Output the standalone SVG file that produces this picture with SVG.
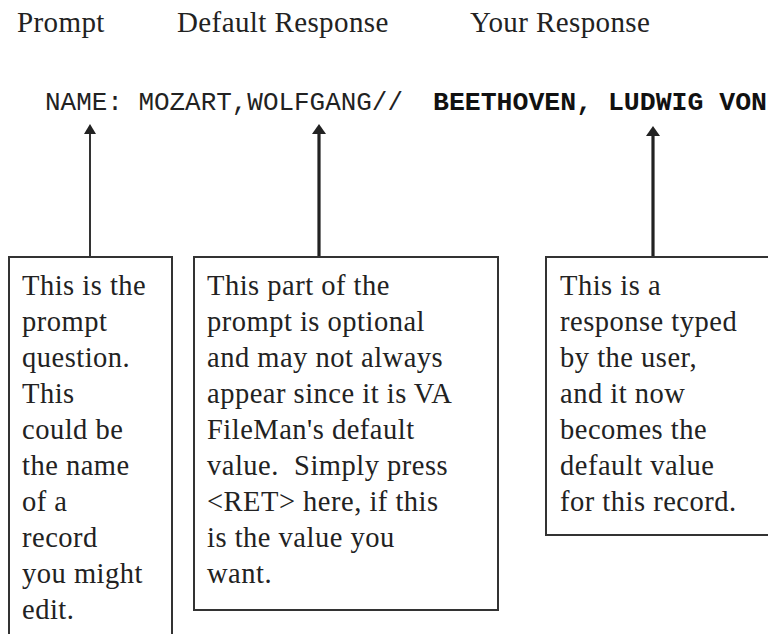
<svg xmlns="http://www.w3.org/2000/svg" width="768" height="634" viewBox="0 0 768 634">
  <style>
    .hdr { font-family: "Liberation Serif", "Times New Roman", serif; font-size: 29px; letter-spacing: 0.4px; fill: #222; }
    .body { font-family: "Liberation Serif", "Times New Roman", serif; font-size: 28.5px; letter-spacing: 0.5px; fill: #222; }
    .mono { font-family: "Liberation Mono", "Courier New", monospace; font-size: 26px; fill: #222; }
    .monob { font-family: "Liberation Mono", "Courier New", monospace; font-size: 26px; font-weight: bold; fill: #111; }
    .box { fill: #fff; stroke: #333; stroke-width: 2; }
    .lead { stroke: #333; stroke-width: 2; fill: none; }
    .lead-heavy { stroke: #222; stroke-width: 3.2; fill: none; }
    .head { fill: #222; }
  </style>

  <!-- column headings -->
  <g id="headings">
    <text class="hdr" x="17" y="32">Prompt</text>
    <text class="hdr" x="177" y="32">Default Response</text>
    <text class="hdr" x="470" y="32">Your Response</text>
  </g>

  <!-- the terminal line being annotated -->
  <g id="terminal-line">
    <text class="mono" x="45" y="110" textLength="358" lengthAdjust="spacingAndGlyphs">NAME: MOZART,WOLFGANG//</text>
    <text class="monob" x="433" y="110" textLength="334" lengthAdjust="spacingAndGlyphs">BEETHOVEN, LUDWIG VON</text>
  </g>

  <!-- leader lines from each box up to the part of the line it explains -->
  <g id="connectors">
    <line class="lead" x1="90" y1="257" x2="90" y2="132"/>
    <polygon class="head" points="90,124 84,134 96,134"/>
    <line class="lead-heavy" x1="319" y1="257" x2="319" y2="132"/>
    <polygon class="head" points="319,124 312,134 326,134"/>
    <line class="lead-heavy" x1="653" y1="257" x2="653" y2="134"/>
    <polygon class="head" points="653,126 646,136 660,136"/>
  </g>

  <g id="prompt-box">
    <rect class="box" x="9" y="257" width="163" height="400"/>
    <text class="body" x="22">
      <tspan x="22" y="295">This is the</tspan>
      <tspan x="22" y="331">prompt</tspan>
      <tspan x="22" y="367">question.</tspan>
      <tspan x="22" y="403">This</tspan>
      <tspan x="22" y="439">could be</tspan>
      <tspan x="22" y="475">the name</tspan>
      <tspan x="22" y="511">of a</tspan>
      <tspan x="22" y="547">record</tspan>
      <tspan x="22" y="583">you might</tspan>
      <tspan x="22" y="619">edit.</tspan>
    </text>
  </g>

  <g id="default-box">
    <rect class="box" x="194" y="257" width="304" height="353"/>
    <text class="body" x="207" xml:space="preserve"><tspan x="207" y="295">This part of the</tspan><tspan x="207" y="331">prompt is optional</tspan><tspan x="207" y="367">and may not always</tspan><tspan x="207" y="403">appear since it is VA</tspan><tspan x="207" y="439">FileMan's default</tspan><tspan x="207" y="475">value.  Simply press</tspan><tspan x="207" y="511">&lt;RET&gt; here, if this</tspan><tspan x="207" y="547">is the value you</tspan><tspan x="207" y="583">want.</tspan></text>
  </g>

  <g id="response-box">
    <rect class="box" x="546" y="257" width="240" height="278"/>
    <text class="body" x="560">
      <tspan x="560" y="295">This is a</tspan>
      <tspan x="560" y="331">response typed</tspan>
      <tspan x="560" y="367">by the user,</tspan>
      <tspan x="560" y="403">and it now</tspan>
      <tspan x="560" y="439">becomes the</tspan>
      <tspan x="560" y="475">default value</tspan>
      <tspan x="560" y="511">for this record.</tspan>
    </text>
  </g>
</svg>
